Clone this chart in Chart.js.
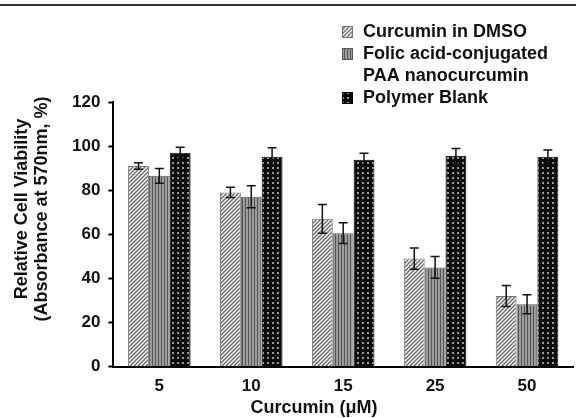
<!DOCTYPE html>
<html>
<head>
<meta charset="utf-8">
<script src="https://cdn.jsdelivr.net/npm/chart.js@4/dist/chart.umd.min.js"></script>
<style>
html, body { margin: 0; padding: 0; background: #fff; }
#wrap { position: relative; width: 576px; height: 418px; }
#topline { position: absolute; left: 0; top: 4px; width: 576px; height: 2px; background: #333; }
</style>
</head>
<body>
<div id="wrap">
  <canvas id="chart" width="576" height="418"></canvas>
  <div id="topline"></div>
</div>
<script>
// data
var concentrations = ['5', '10', '15', '25', '50'];
var seriesNames = ['Curcumin in DMSO', 'Folic acid-conjugated\nPAA nanocurcumin', 'Polymer Blank'];
var curcuminDmso = [91, 79, 67, 49, 32];
var curcuminDmsoErr = [1.5, 2.3, 6.5, 4.8, 4.8];
var folicPaa = [86.5, 77, 60.5, 45, 28.3];
var folicPaaErr = [3.3, 5, 4.7, 4.9, 4.3];
var polymerBlank = [97, 95.2, 93.8, 95.6, 95.2];
var polymerBlankErr = [2.5, 4, 3, 3.3, 3];
var yMin = 0, yMax = 120, yStep = 20;
var xTitle = 'Curcumin (\u03BCM)';
var yTitle = ['Relative Cell Viability', '(Absorbance at 570nm, %)'];

var FONT = '"Liberation Sans", Arial, sans-serif';

function makePattern(type){
    var c = document.createElement('canvas');
    var p = c.getContext('2d');
    if(type == 'diag'){
        c.width = 4; c.height = 4;
        p.fillStyle = '#f4f4f4';
        p.fillRect(0, 0, 4, 4);
        p.strokeStyle = '#6a6a6a';
        p.lineWidth = 1.3;
        p.beginPath();
        p.moveTo(-1, 5); p.lineTo(5, -1);
        p.moveTo(-1, 1); p.lineTo(1, -1);
        p.moveTo(3, 5); p.lineTo(5, 3);
        p.stroke();
    }
    else if(type == 'vert'){
        c.width = 3; c.height = 3;
        p.fillStyle = '#9c9c9c';
        p.fillRect(0, 0, 3, 3);
        p.fillStyle = '#555';
        p.fillRect(2, 0, 1, 3);
    }
    else{
        c.width = 5; c.height = 5;
        p.fillStyle = '#0a0a0a';
        p.fillRect(0, 0, 5, 5);
        p.fillStyle = '#9a9a9a';
        p.fillRect(2, 2, 2, 2);
    }
    return p.createPattern(c, 'repeat');
}

var patterns = [makePattern('diag'), makePattern('vert'), makePattern('dots')];
var borders = ['#777', '#555', '#000'];

function createDataSet(idx, data, errors){
    return {
        label: seriesNames[idx].replace('\n', ' '),
        data: data,
        errors: errors,
        backgroundColor: patterns[idx],
        borderColor: borders[idx],
        borderWidth: 1,
        categoryPercentage: 0.68,
        barPercentage: 1.0
    };
}

var errorBars = {
    id: 'errorBars',
    afterDatasetsDraw: function(chart){
        var ctx = chart.ctx;
        var yScale = chart.scales.y;
        ctx.save();
        ctx.strokeStyle = '#111';
        ctx.lineWidth = 1.5;
        chart.data.datasets.forEach(function(ds, i){
            var meta = chart.getDatasetMeta(i);
            meta.data.forEach(function(bar, j){
                var v = ds.data[j], e = ds.errors[j];
                var yTop = yScale.getPixelForValue(v + e);
                var yBot = yScale.getPixelForValue(v - e);
                var cap = 4.5;
                ctx.beginPath();
                ctx.moveTo(bar.x, yTop); ctx.lineTo(bar.x, yBot);
                ctx.moveTo(bar.x - cap, yTop); ctx.lineTo(bar.x + cap, yTop);
                ctx.moveTo(bar.x - cap, yBot); ctx.lineTo(bar.x + cap, yBot);
                ctx.stroke();
            });
        });
        ctx.restore();
    }
};

var legendAndTitles = {
    id: 'legendAndTitles',
    afterDraw: function(chart){
        var ctx = chart.ctx;
        ctx.save();
        ctx.fillStyle = '#111';
        ctx.font = 'bold 18px ' + FONT;
        ctx.textBaseline = 'alphabetic';
        ctx.textAlign = 'left';

        // legend
        var baseline = 37;
        seriesNames.forEach(function(name, i){
            var lines = name.split('\n');
            ctx.fillStyle = patterns[i];
            ctx.fillRect(342, baseline - 11, 10, 11);
            ctx.strokeStyle = borders[i];
            ctx.lineWidth = 1;
            ctx.strokeRect(342.5, baseline - 10.5, 10, 11);
            ctx.fillStyle = '#111';
            lines.forEach(function(line){
                ctx.fillText(line, 363, baseline);
                baseline += 22;
            });
        });

        // x title
        ctx.textAlign = 'center';
        ctx.fillText(xTitle, 314, 413);

        // y title
        ctx.translate(32, 209);
        ctx.rotate(-Math.PI / 2);
        ctx.textBaseline = 'middle';
        ctx.fillText(yTitle[0], 0, -10);
        ctx.fillText(yTitle[1], 0, 10);
        ctx.restore();
    }
};

var canvas = document.getElementById('chart');
var chart = new Chart(canvas.getContext('2d'), {
    type: 'bar',
    data: {
        labels: concentrations,
        datasets: [
            createDataSet(0, curcuminDmso, curcuminDmsoErr),
            createDataSet(1, folicPaa, folicPaaErr),
            createDataSet(2, polymerBlank, polymerBlankErr)
        ]
    },
    options: {
        responsive: false,
        animation: false,
        layout: { padding: { left: 64, right: 3, top: 102, bottom: 11 } },
        plugins: {
            legend: { display: false },
            tooltip: { enabled: false }
        },
        scales: {
            x: {
                grid: { display: false, drawTicks: false },
                border: { display: true, color: '#000', width: 2 },
                ticks: { color: '#111', padding: 10, font: { family: FONT, size: 17, weight: 'bold' } }
            },
            y: {
                min: yMin,
                max: yMax,
                grid: { drawOnChartArea: false, drawTicks: true, tickLength: 5, tickColor: '#000', tickWidth: 2 },
                border: { display: true, color: '#000', width: 2 },
                ticks: { stepSize: yStep, color: '#111', padding: 8, font: { family: FONT, size: 17, weight: 'bold' } }
            }
        }
    },
    plugins: [errorBars, legendAndTitles]
});
</script>
</body>
</html>
